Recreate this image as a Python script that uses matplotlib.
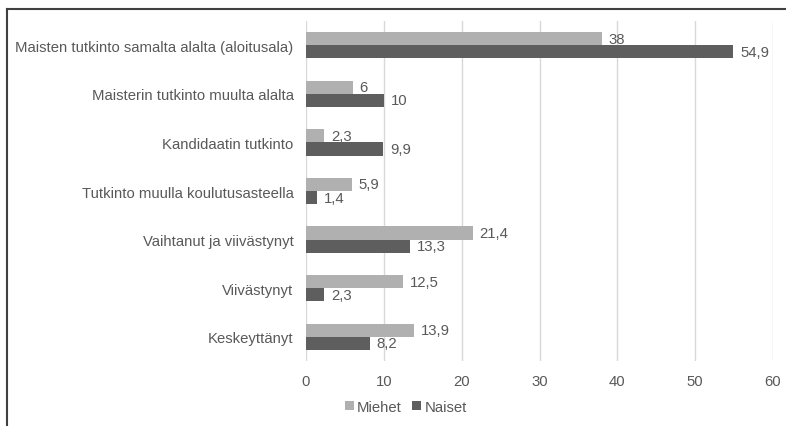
import matplotlib.pyplot as plt
import numpy as np

plt.rcParams['font.family'] = ['Liberation Sans', 'DejaVu Sans']

# Data (top to bottom)
categories = ['Maisten tutkinto samalta alalta (aloitusala)',
              'Maisterin tutkinto muulta alalta',
              'Kandidaatin tutkinto',
              'Tutkinto muulla koulutusasteella',
              'Vaihtanut ja viivästynyt',
              'Viivästynyt',
              'Keskeyttänyt']
miehet = [38, 6, 2.3, 5.9, 21.4, 12.5, 13.9]
naiset = [54.9, 10, 9.9, 1.4, 13.3, 2.3, 8.2]

c_m = '#b0b0b0'
c_n = '#5e5e5e'
txt = '#595959'
fs = 10.7

fig = plt.figure(figsize=(7.86, 4.27), dpi=100)
ax = fig.add_axes([306 / 786, 1 - 362 / 427, (773 - 306) / 786, (362 - 22) / 427])

y = np.arange(len(categories))
h = 0.27
ax.barh(y - h / 2, miehet, h, color=c_m, label='Miehet', zorder=3)
ax.barh(y + h / 2, naiset, h, color=c_n, label='Naiset', zorder=3)

def fmt(v):
    return f'{v:g}'.replace('.', ',')

for yi, v in zip(y, miehet):
    ax.annotate(fmt(v), (v, yi - h / 2), xytext=(5, 0), textcoords='offset points',
                va='center', ha='left', fontsize=fs, color=txt)
for yi, v in zip(y, naiset):
    ax.annotate(fmt(v), (v, yi + h / 2), xytext=(5, 0), textcoords='offset points',
                va='center', ha='left', fontsize=fs, color=txt)

ax.set_ylim(len(categories) - 0.5, -0.5)
ax.set_xlim(0, 60)
ax.set_xticks(range(0, 61, 10))
ax.set_yticks(y)
ax.set_yticklabels(categories)
ax.tick_params(axis='both', length=0, labelsize=fs, colors=txt)
ax.tick_params(axis='x', pad=9)
ax.tick_params(axis='y', pad=9)
ax.grid(axis='x', color='#d9d9d9', linewidth=1, zorder=0)
for s in ax.spines.values():
    s.set_visible(False)

ax.legend(loc='lower center', bbox_to_anchor=(406 / 786, 5 / 427),
          bbox_transform=fig.transFigure, ncol=2, frameon=False, fontsize=fs,
          handlelength=0.6, handleheight=0.6, handletextpad=0.2, columnspacing=0.7,
          labelcolor=txt, borderpad=0)

# frame around the chart (left and top visible)
fig.add_artist(plt.Line2D([7 / 786, 7 / 786], [0, 1 - 10 / 427], color='#404040', lw=1.5,
                          transform=fig.transFigure))
fig.add_artist(plt.Line2D([7 / 786, 1], [1 - 10 / 427, 1 - 10 / 427], color='#404040', lw=1.5,
                          transform=fig.transFigure))

fig.savefig('out.png', dpi=100)
